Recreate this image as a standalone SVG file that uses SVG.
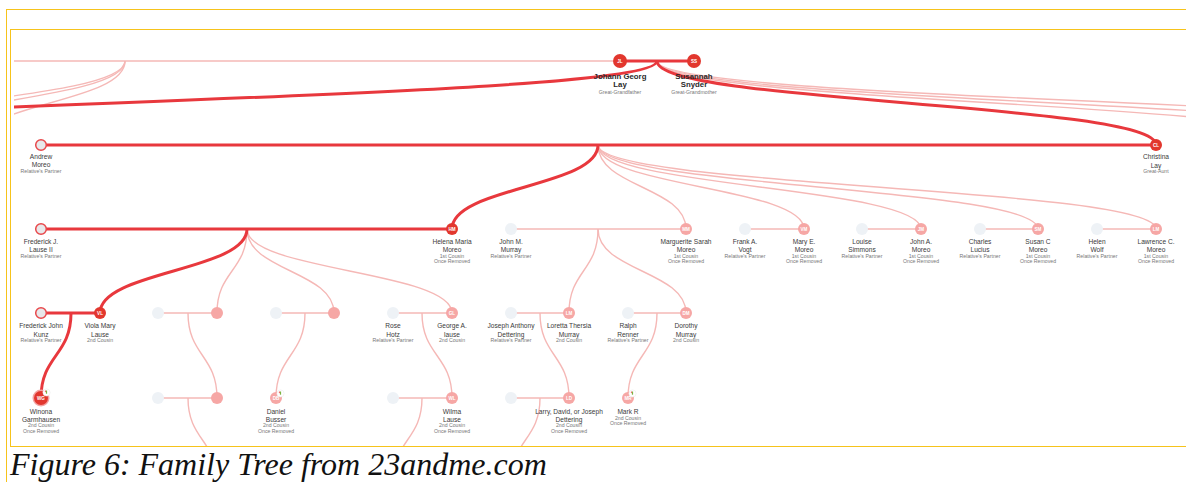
<svg xmlns="http://www.w3.org/2000/svg" width="1186" height="482" viewBox="0 0 1186 482">
<defs>
<style>
.frame{fill:none;stroke:#f6c31b;stroke-width:1}
.main{fill:none;stroke:#e8383d;stroke-width:3}
.sub{fill:none;stroke:#f5b8b6;stroke-width:1.4}
.nr{fill:#e2372e}
.np{fill:#f6a7a5}
.ng{fill:#eef2f6}
.nd{fill:#e8e8ea;stroke:#e8484b;stroke-width:1.5}
.ini{font-family:"Liberation Sans",Arial,sans-serif;font-size:4.6px;font-weight:bold;fill:#fff;text-anchor:middle}
.nm{font-family:"Liberation Sans",Arial,sans-serif;font-size:6.6px;fill:#3a3a3a;text-anchor:middle}
.nb{font-family:"Liberation Sans",Arial,sans-serif;font-size:7.8px;font-weight:bold;fill:#2a2a2a;text-anchor:middle}
.rl{font-family:"Liberation Sans",Arial,sans-serif;font-size:5.2px;fill:#777;text-anchor:middle}
.cap{font-family:"Liberation Serif","Times New Roman",serif;font-style:italic;font-size:32px;fill:#111}
</style>
<clipPath id="treeClip"><rect x="14" y="30" width="1172" height="416"/></clipPath>
<g id="icon"><circle r="3.6" fill="#fff" stroke="#e6e6e6" stroke-width="0.5"/><rect x="-0.6" y="-2" width="1.2" height="3.2" fill="#7cb342"/><rect x="-1.6" y="-2" width="0.8" height="1.6" fill="#e53935"/></g>
</defs>
<rect width="1186" height="482" fill="#fff"/>
<g id="frames">
<rect class="frame" x="6.5" y="9.5" width="1190" height="480"/>
<rect class="frame" x="10.5" y="29.5" width="1186" height="417"/>
</g>
<g id="connectors" clip-path="url(#treeClip)">
<path class="sub" d="M14 61H613"/>
<path class="sub" d="M125 61C125 103 -203 103 -203 145"/>
<path class="sub" d="M125 61C125 103 -134 103 -134 145"/>
<path class="sub" d="M125 61C125 103 -25 103 -25 145"/>
<path class="sub" d="M657 61C657 103 1330 103 1330 145"/>
<path class="sub" d="M657 61C657 103 1450 103 1450 145"/>
<path class="sub" d="M657 61C657 103 1600 103 1600 145"/>
<path class="main" d="M657 61C657 103 -425 103 -425 145"/>
<path class="main" d="M657 61C657 103 1156 103 1156 145"/>
<path class="main" d="M620 61H694"/>
<path class="main" d="M41 145H1156"/>
<path class="sub" d="M598 145C598 187 686 187 686 229"/>
<path class="sub" d="M598 145C598 187 804 187 804 229"/>
<path class="sub" d="M598 145C598 187 921 187 921 229"/>
<path class="sub" d="M598 145C598 187 1038 187 1038 229"/>
<path class="sub" d="M598 145C598 187 1156 187 1156 229"/>
<path class="main" d="M598 145C598 187 452 187 452 229"/>
<path class="main" d="M41 229H452"/>
<path class="sub" d="M511 229H686"/>
<path class="sub" d="M745 229H804"/>
<path class="sub" d="M862 229H921"/>
<path class="sub" d="M980 229H1038"/>
<path class="sub" d="M1097 229H1156"/>
<path class="sub" d="M247 229C247 271 217 271 217 313"/>
<path class="sub" d="M247 229C247 271 334 271 334 313"/>
<path class="sub" d="M247 229C247 271 452 271 452 313"/>
<path class="main" d="M247 229C247 271 100 271 100 313"/>
<path class="sub" d="M598 229C598 271 569 271 569 313"/>
<path class="sub" d="M598 229C598 271 686 271 686 313"/>
<path class="main" d="M41 313H100"/>
<path class="main" d="M71 313C71 355.5 41 355.5 41 398"/>
<path class="sub" d="M158 313H217"/>
<path class="sub" d="M188 313C188 355.5 217 355.5 217 398"/>
<path class="sub" d="M276 313H334"/>
<path class="sub" d="M305 313C305 355.5 276 355.5 276 398"/>
<path class="sub" d="M393 313H452"/>
<path class="sub" d="M422 313C422 355.5 452 355.5 452 398"/>
<path class="sub" d="M511 313H569"/>
<path class="sub" d="M540 313C540 355.5 569 355.5 569 398"/>
<path class="sub" d="M628 313H686"/>
<path class="sub" d="M657 313C657 355.5 628 355.5 628 398"/>
<path class="sub" d="M158 398H217"/>
<path class="sub" d="M188 398C188 440 217 440 217 482"/>
<path class="sub" d="M393 398H452"/>
<path class="sub" d="M422 398C422 440 393 440 393 482"/>
<path class="sub" d="M511 398H569"/>
<path class="sub" d="M540 398C540 440 511 440 511 482"/>
</g>
<g id="n-JL"><circle class="nr" cx="620" cy="61" r="7"/><text class="ini" x="620" y="62.7">JL</text><text class="nb" x="620" y="78.5">Johann Georg</text><text class="nb" x="620" y="87">Lay</text><text class="rl" x="620" y="94">Great-Grandfather</text></g>
<g id="n-SS"><circle class="nr" cx="694" cy="61" r="7"/><text class="ini" x="694" y="62.7">SS</text><text class="nb" x="694" y="78.5">Susannah</text><text class="nb" x="694" y="87">Snyder</text><text class="rl" x="694" y="94">Great-Grandmother</text></g>
<g id="n-AM"><circle class="nd" cx="41" cy="145" r="5.3"/><text class="nm" x="41" y="158.5">Andrew</text><text class="nm" x="41" y="167">Moreo</text><text class="rl" x="41" y="172.8">Relative's Partner</text></g>
<g id="n-CL"><circle class="nr" cx="1156" cy="145" r="6"/><text class="ini" x="1156" y="146.6">CL</text><text class="nm" x="1156" y="159">Christina</text><text class="nm" x="1156" y="167.5">Lay</text><text class="rl" x="1156" y="173">Great-Aunt</text></g>
<g id="n-FL"><circle class="nd" cx="41" cy="229" r="5.3"/><text class="nm" x="41" y="243.5">Frederick J.</text><text class="nm" x="41" y="252">Lause II</text><text class="rl" x="41" y="257.8">Relative's Partner</text></g>
<g id="n-HM"><circle class="nr" cx="452" cy="229" r="6"/><text class="ini" x="452" y="230.6">HM</text><text class="nm" x="452" y="243.5">Helena Maria</text><text class="nm" x="452" y="252">Moreo</text><text class="rl" x="452" y="257.8">1st Cousin</text><text class="rl" x="452" y="262.8">Once Removed</text></g>
<g id="n-JMM"><circle class="ng" cx="511" cy="229" r="6"/><text class="nm" x="511" y="243.5">John M.</text><text class="nm" x="511" y="252">Murray</text><text class="rl" x="511" y="257.8">Relative's Partner</text></g>
<g id="n-MM"><circle class="np" cx="686" cy="229" r="6"/><text class="ini" x="686" y="230.6">MM</text><text class="nm" x="686" y="243.5">Marguerite Sarah</text><text class="nm" x="686" y="252">Moreo</text><text class="rl" x="686" y="257.8">1st Cousin</text><text class="rl" x="686" y="262.8">Once Removed</text></g>
<g id="n-FV"><circle class="ng" cx="745" cy="229" r="6"/><text class="nm" x="745" y="243.5">Frank A.</text><text class="nm" x="745" y="252">Vogt</text><text class="rl" x="745" y="257.8">Relative's Partner</text></g>
<g id="n-VM"><circle class="np" cx="804" cy="229" r="6"/><text class="ini" x="804" y="230.6">VM</text><text class="nm" x="804" y="243.5">Mary E.</text><text class="nm" x="804" y="252">Moreo</text><text class="rl" x="804" y="257.8">1st Cousin</text><text class="rl" x="804" y="262.8">Once Removed</text></g>
<g id="n-LS"><circle class="ng" cx="862" cy="229" r="6"/><text class="nm" x="862" y="243.5">Louise</text><text class="nm" x="862" y="252">Simmons</text><text class="rl" x="862" y="257.8">Relative's Partner</text></g>
<g id="n-JAM"><circle class="np" cx="921" cy="229" r="6"/><text class="ini" x="921" y="230.6">JM</text><text class="nm" x="921" y="243.5">John A.</text><text class="nm" x="921" y="252">Moreo</text><text class="rl" x="921" y="257.8">1st Cousin</text><text class="rl" x="921" y="262.8">Once Removed</text></g>
<g id="n-CLu"><circle class="ng" cx="980" cy="229" r="6"/><text class="nm" x="980" y="243.5">Charles</text><text class="nm" x="980" y="252">Lucius</text><text class="rl" x="980" y="257.8">Relative's Partner</text></g>
<g id="n-SM"><circle class="np" cx="1038" cy="229" r="6"/><text class="ini" x="1038" y="230.6">SM</text><text class="nm" x="1038" y="243.5">Susan C</text><text class="nm" x="1038" y="252">Moreo</text><text class="rl" x="1038" y="257.8">1st Cousin</text><text class="rl" x="1038" y="262.8">Once Removed</text></g>
<g id="n-HW"><circle class="ng" cx="1097" cy="229" r="6"/><text class="nm" x="1097" y="243.5">Helen</text><text class="nm" x="1097" y="252">Wolf</text><text class="rl" x="1097" y="257.8">Relative's Partner</text></g>
<g id="n-LM"><circle class="np" cx="1156" cy="229" r="6"/><text class="ini" x="1156" y="230.6">LM</text><text class="nm" x="1156" y="243.5">Lawrence C.</text><text class="nm" x="1156" y="252">Moreo</text><text class="rl" x="1156" y="257.8">1st Cousin</text><text class="rl" x="1156" y="262.8">Once Removed</text></g>
<g id="n-FK"><circle class="nd" cx="41" cy="313" r="5.3"/><text class="nm" x="41" y="328.3">Frederick John</text><text class="nm" x="41" y="336.8">Kunz</text><text class="rl" x="41" y="342">Relative's Partner</text></g>
<g id="n-VL"><circle class="nr" cx="100" cy="313" r="6"/><text class="ini" x="100" y="314.6">VL</text><text class="nm" x="100" y="328.3">Viola Mary</text><text class="nm" x="100" y="336.8">Lause</text><text class="rl" x="100" y="342">2nd Cousin</text></g>
<g id="n-G4a"><circle class="ng" cx="158" cy="313" r="6"/></g>
<g id="n-P4a"><circle class="np" cx="217" cy="313" r="6"/></g>
<g id="n-G4b"><circle class="ng" cx="276" cy="313" r="6"/></g>
<g id="n-P4b"><circle class="np" cx="334" cy="313" r="6"/></g>
<g id="n-RH"><circle class="ng" cx="393" cy="313" r="6"/><text class="nm" x="393" y="328.3">Rose</text><text class="nm" x="393" y="336.8">Hotz</text><text class="rl" x="393" y="342">Relative's Partner</text></g>
<g id="n-GL"><circle class="np" cx="452" cy="313" r="6"/><text class="ini" x="452" y="314.6">GL</text><text class="nm" x="452" y="328.3">George A.</text><text class="nm" x="452" y="336.8">lause</text><text class="rl" x="452" y="342">2nd Cousin</text></g>
<g id="n-JAD"><circle class="ng" cx="511" cy="313" r="6"/><text class="nm" x="511" y="328.3">Joseph Anthony</text><text class="nm" x="511" y="336.8">Dettering</text><text class="rl" x="511" y="342">Relative's Partner</text></g>
<g id="n-LTM"><circle class="np" cx="569" cy="313" r="6"/><text class="ini" x="569" y="314.6">LM</text><text class="nm" x="569" y="328.3">Loretta Thersia</text><text class="nm" x="569" y="336.8">Murray</text><text class="rl" x="569" y="342">2nd Cousin</text></g>
<g id="n-RR"><circle class="ng" cx="628" cy="313" r="6"/><text class="nm" x="628" y="328.3">Ralph</text><text class="nm" x="628" y="336.8">Renner</text><text class="rl" x="628" y="342">Relative's Partner</text></g>
<g id="n-DM"><circle class="np" cx="686" cy="313" r="6"/><text class="ini" x="686" y="314.6">DM</text><text class="nm" x="686" y="328.3">Dorothy</text><text class="nm" x="686" y="336.8">Murray</text><text class="rl" x="686" y="342">2nd Cousin</text></g>
<g id="n-WG"><circle cx="41" cy="398" r="8.5" fill="#f3a3a3"/><circle class="nr" cx="41" cy="398" r="7"/><text class="ini" x="41" y="399.6">WG</text><use href="#icon" x="46.5" y="392.5"/><text class="nm" x="41" y="414.2">Winona</text><text class="nm" x="41" y="422">Garmhausen</text><text class="rl" x="41" y="427">2nd Cousin</text><text class="rl" x="41" y="432.5">Once Removed</text></g>
<g id="n-G5a"><circle class="ng" cx="158" cy="398" r="6"/></g>
<g id="n-P5a"><circle class="np" cx="217" cy="398" r="6"/></g>
<g id="n-DB"><circle class="np" cx="276" cy="398" r="6"/><text class="ini" x="276" y="399.6">DB</text><use href="#icon" x="280.5" y="393.5"/><text class="nm" x="276" y="414.2">Daniel</text><text class="nm" x="276" y="422">Busser</text><text class="rl" x="276" y="427">2nd Cousin</text><text class="rl" x="276" y="432.5">Once Removed</text></g>
<g id="n-G5b"><circle class="ng" cx="393" cy="398" r="6"/></g>
<g id="n-WL"><circle class="np" cx="452" cy="398" r="6"/><text class="ini" x="452" y="399.6">WL</text><text class="nm" x="452" y="414.2">Wilma</text><text class="nm" x="452" y="422">Lause</text><text class="rl" x="452" y="427">2nd Cousin</text><text class="rl" x="452" y="432.5">Once Removed</text></g>
<g id="n-G5c"><circle class="ng" cx="511" cy="398" r="6"/></g>
<g id="n-LD"><circle class="np" cx="569" cy="398" r="6"/><text class="ini" x="569" y="399.6">LD</text><text class="nm" x="569" y="414.2">Larry, David, or Joseph</text><text class="nm" x="569" y="422">Dettering</text><text class="rl" x="569" y="427">2nd Cousin</text><text class="rl" x="569" y="432.5">Once Removed</text></g>
<g id="n-MR"><circle class="np" cx="628" cy="398" r="6"/><text class="ini" x="628" y="399.6">MR</text><use href="#icon" x="632.5" y="393.5"/><text class="nm" x="628" y="414.2">Mark R</text><text class="rl" x="628" y="419.5">2nd Cousin</text><text class="rl" x="628" y="425">Once Removed</text></g>
<text class="cap" x="10" y="475">Figure 6: Family Tree from 23andme.com</text>
</svg>
